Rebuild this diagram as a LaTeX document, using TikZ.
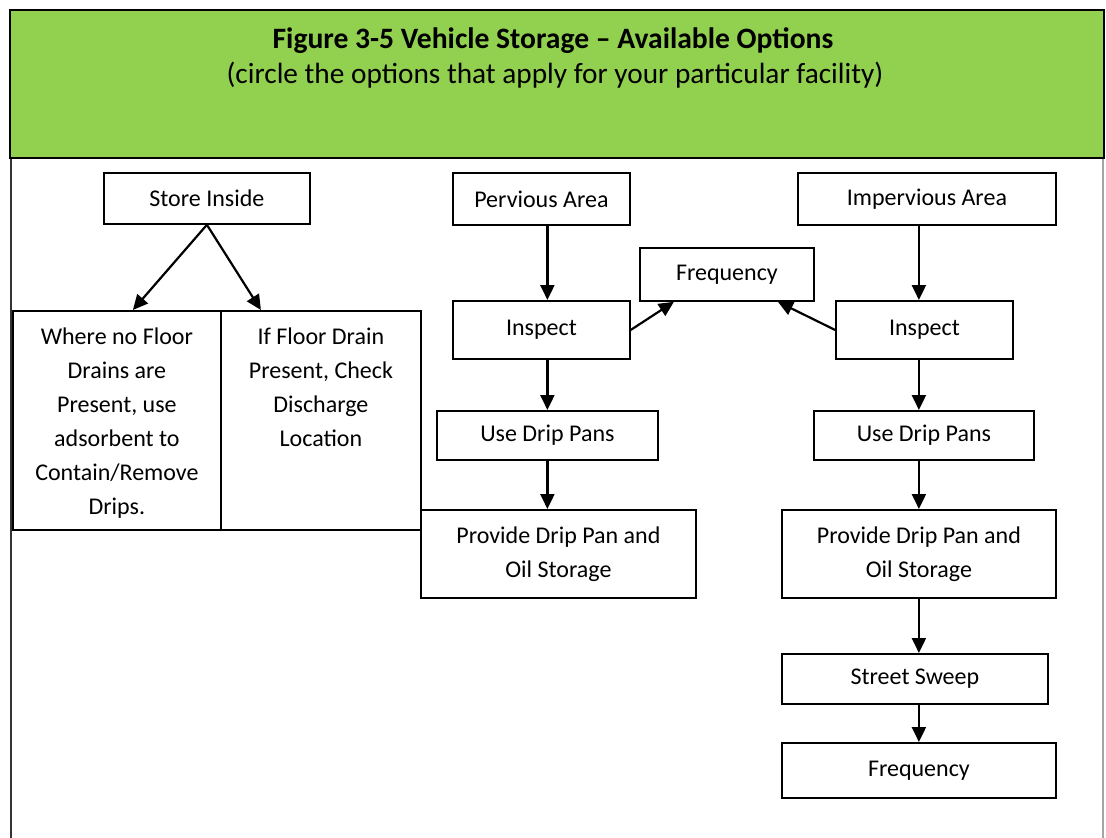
\documentclass[tikz,border=0pt]{standalone}
\usepackage{fontspec}
\setmainfont{Carlito}
\usepackage{tikz}
\usetikzlibrary{positioning,arrows.meta,calc}
\definecolor{hdrclr}{RGB}{146,208,80}
\definecolor{frameclr}{RGB}{165,165,165}
\tikzset{
    optbox/.style={rectangle,draw,line width=1.8pt,inner sep=0pt,anchor=north west,
                   font=\fontsize{24}{34}\selectfont,align=center},
    boxtext/.style={inner sep=0pt,anchor=north,align=center,
                    font=\fontsize{24}{34}\selectfont},
    flow/.style={-{Triangle[length=15pt,width=14pt]},line width=2.2pt},
}

\begin{document}
\begin{tikzpicture}[x=1pt,y=-1pt]
\useasboundingbox (0,0) rectangle (1106,838);
% frame and header
\draw[black!80,line width=2pt] (11,158) -- (11,838);
\draw[frameclr,line width=1.2pt] (1103,158) -- (1103,838);
\draw[fill=hdrclr,line width=2pt] (10,10) rectangle (1104,158);
\node[anchor=base,font=\fontsize{29.6}{35}\selectfont\bfseries] (title) at (553,48)
    {Figure 3-5 Vehicle Storage -- Available Options};
\node[anchor=base,font=\fontsize{29.3}{35}\selectfont] (subtitle) at (555,83)
    {(circle the options that apply for your particular facility)};

% store inside
\node[optbox,minimum width=206,minimum height=51] (store) at (103,172) {Store Inside};
\node[optbox,minimum width=208,minimum height=219] (nofloor) at (12,310) {};
\node[optbox,minimum width=200,minimum height=219] (floordrain) at (220,310) {};
\node[boxtext] (nofloortxt) at ($(nofloor.north)+(0,18)$)
    {Where no Floor\\Drains are\\Present, use\\adsorbent to\\Contain/Remove\\Drips.};
\node[boxtext] (floordraintxt) at ($(floordrain.north)+(0,18)$)
    {If Floor Drain\\Present, Check\\Discharge\\Location};

% pervious area
\node[optbox,minimum width=177,minimum height=52] (pervious) at (452,172) {Pervious Area};
\node[optbox,minimum width=177,minimum height=58] (inspL) at (452,300) {Inspect};
\node[optbox,minimum width=221,minimum height=49] (dripL) at (436,410) {Use Drip Pans};
\node[optbox,minimum width=275,minimum height=88] (provL) at (420,509)
    {Provide Drip Pan and\\Oil Storage};
\node[optbox,minimum width=174,minimum height=53] (freqtop) at (639,247) {Frequency};

% impervious area
\node[optbox,minimum width=258,minimum height=52] (impervious) at (797,172) {Impervious Area};
\node[optbox,minimum width=177,minimum height=58] (inspR) at (835,300) {Inspect};
\node[optbox,minimum width=220,minimum height=49] (dripR) at (813,410) {Use Drip Pans};
\node[optbox,minimum width=274,minimum height=88] (provR) at (781,509)
    {Provide Drip Pan and\\Oil Storage};
\node[optbox,minimum width=266,minimum height=50] (sweep) at (781,653) {Street Sweep};
\node[optbox,minimum width=274,minimum height=55] (freqbot) at (781,742) {Frequency};

% arrows
\draw[flow] (store.south) -- ($(nofloor.north)+(16,0)$);
\draw[flow] (store.south) -- ($(floordrain.north)+(-60,0)$);
\draw[flow] (pervious.south -| dripL.north) -- (inspL.north -| dripL.north);
\draw[flow] (inspL.south -| dripL.north) -- (dripL.north);
\draw[flow] (dripL.south) -- (provL.north -| dripL.south);
\draw[flow] (inspL.east) -- ($(freqtop.south)+(-53,0)$);
\draw[flow] (inspR.west) -- ($(freqtop.south)+(51,0)$);
\draw[flow] (impervious.south -| provR.north) -- (inspR.north -| provR.north);
\draw[flow] (inspR.south -| provR.north) -- (dripR.north -| provR.north);
\draw[flow] (dripR.south -| provR.north) -- (provR.north);
\draw[flow] (provR.south) -- (sweep.north -| provR.south);
\draw[flow] (sweep.south -| provR.south) -- (freqbot.north);
\end{tikzpicture}
\end{document}
